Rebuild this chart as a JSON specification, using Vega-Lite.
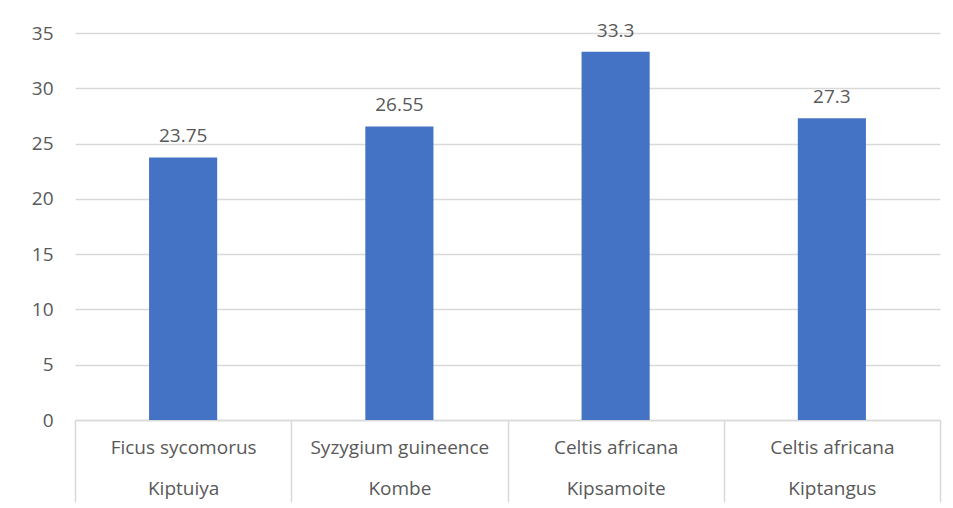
{
  "$schema": "https://vega.github.io/schema/vega-lite/v6.json",
  "autosize": {"type": "none"},
  "width": 865,
  "height": 387,
  "padding": {"left": 75, "top": 33, "right": 13, "bottom": 88},
  "background": "#ffffff",
  "data": {
    "values": [
      {"key": "Ficus sycomorus|Kiptuiya", "species": "Ficus sycomorus", "site": "Kiptuiya", "value": 23.75},
      {"key": "Syzygium guineence|Kombe", "species": "Syzygium guineence", "site": "Kombe", "value": 26.55},
      {"key": "Celtis africana|Kipsamoite", "species": "Celtis africana", "site": "Kipsamoite", "value": 33.3},
      {"key": "Celtis africana|Kiptangus", "species": "Celtis africana", "site": "Kiptangus", "value": 27.3}
    ]
  },
  "encoding": {
    "x": {
      "field": "key",
      "type": "nominal",
      "sort": null,
      "scale": {"paddingInner": 0, "paddingOuter": 0},
      "axis": {
        "title": null,
        "labelAngle": 0,
        "labelExpr": "split(datum.label, '|')",
        "labelFont": "Open Sans",
        "labelFontSize": 19,
        "labelColor": "#595959",
        "labelLineHeight": 41,
        "labelPadding": -64,
        "labelBaseline": "top",
        "domainColor": "#d9d9d9",
        "domainWidth": 1.5,
        "ticks": true,
        "tickBand": "extent",
        "tickSize": 82,
        "tickColor": "#d9d9d9",
        "tickWidth": 1.5,
        "grid": false
      }
    },
    "y": {
      "field": "value",
      "type": "quantitative",
      "scale": {"domain": [0, 35], "nice": false},
      "axis": {
        "title": null,
        "values": [0, 5, 10, 15, 20, 25, 30, 35],
        "domain": false,
        "ticks": false,
        "labelFont": "Open Sans",
        "labelFontSize": 19,
        "labelColor": "#595959",
        "labelPadding": 22,
        "gridColor": "#d9d9d9",
        "gridWidth": 1.5
      }
    }
  },
  "layer": [
    {
      "mark": {"type": "bar", "color": "#4472C4", "width": {"band": 0.315}}
    },
    {
      "mark": {
        "type": "text",
        "font": "Open Sans",
        "fontSize": 19,
        "color": "#595959",
        "baseline": "bottom",
        "dy": -11
      },
      "encoding": {"text": {"field": "value", "type": "quantitative"}}
    }
  ],
  "config": {"view": {"stroke": null}}
}
